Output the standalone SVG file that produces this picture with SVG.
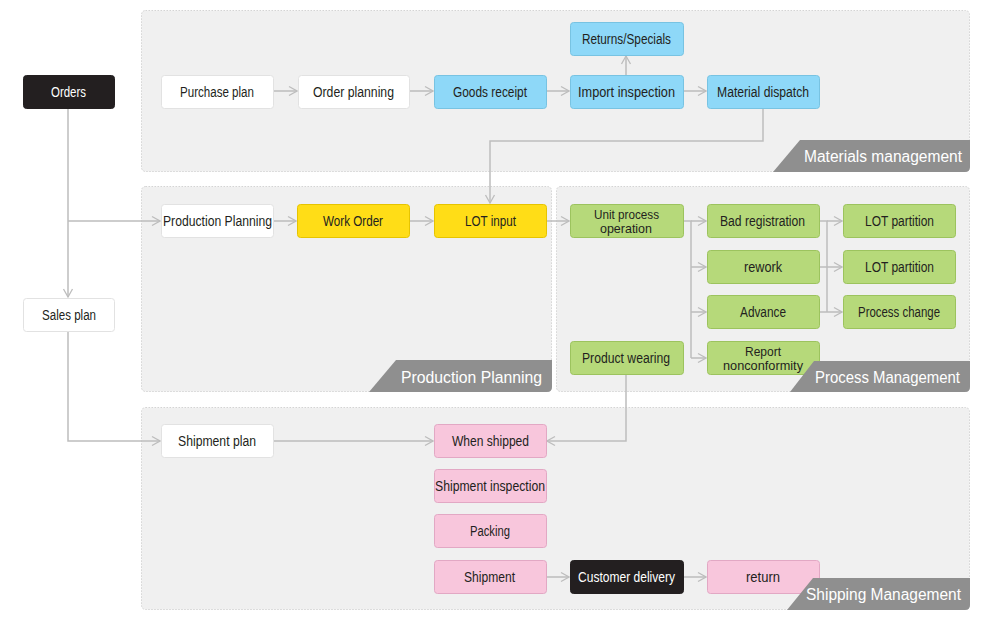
<svg xmlns="http://www.w3.org/2000/svg" width="1000" height="628" viewBox="0 0 1000 628">
<defs>
<style>
.panel{fill:#f0f0f0;stroke:#d4d4d4;stroke-width:1;stroke-dasharray:1.5 1.5}
.tag{fill:#8f8f8f}
.tagt{fill:#ffffff;font-family:"Liberation Sans",Arial,sans-serif;font-size:16px;text-anchor:start}
.n rect{stroke-width:1}
.n text{font-family:"Liberation Sans",Arial,sans-serif;font-size:14px;fill:#231f20;text-anchor:start}
.n text.s{font-size:13px}
.w rect{fill:#ffffff;stroke:#e2e2e2}
.k rect{fill:#231f20;stroke:#231f20}
.k text{fill:#ffffff}
.b rect{fill:#8ed8f8;stroke:#78c3e2}
.y rect{fill:#ffdd17;stroke:#e6c400}
.g rect{fill:#b6d97a;stroke:#9cc35e}
.p rect{fill:#f8c6dc;stroke:#e2a8c4}
.c{fill:none;stroke:#bdbdbd;stroke-width:1.5}
</style>
<marker id="ah" viewBox="0 0 10 12" refX="9" refY="6" markerWidth="10" markerHeight="12" markerUnits="userSpaceOnUse" orient="auto">
<path d="M1,1.5 L9,6 L1,10.5" fill="none" stroke="#bdbdbd" stroke-width="1.3"/>
</marker>
</defs>

<g id="panels">
<rect class="panel" x="141.5" y="10.5" width="828" height="161" rx="4"/>
<rect class="panel" x="141.5" y="186.5" width="410" height="205" rx="4"/>
<rect class="panel" x="556.5" y="186.5" width="413" height="205" rx="4"/>
<rect class="panel" x="141.5" y="407.5" width="828" height="202" rx="4"/>
</g>

<g id="connectors">
<path class="c" d="M68,108 V297" marker-end="url(#ah)"/>
<path class="c" d="M68,221 H160" marker-end="url(#ah)"/>
<path class="c" d="M68,331 V441 H160" marker-end="url(#ah)"/>
<path class="c" d="M273,91 H297" marker-end="url(#ah)"/>
<path class="c" d="M409,91 H433" marker-end="url(#ah)"/>
<path class="c" d="M546,91 H569" marker-end="url(#ah)"/>
<path class="c" d="M683,91 H706" marker-end="url(#ah)"/>
<path class="c" d="M626,75 V56" marker-end="url(#ah)"/>
<path class="c" d="M763,108 V141 H490 V203" marker-end="url(#ah)"/>
<path class="c" d="M273,221 H296" marker-end="url(#ah)"/>
<path class="c" d="M409,221 H433" marker-end="url(#ah)"/>
<path class="c" d="M546,221 H569" marker-end="url(#ah)"/>
<path class="c" d="M683,221 H691 V358"/>
<path class="c" d="M691,221 H706" marker-end="url(#ah)"/>
<path class="c" d="M691,267 H706" marker-end="url(#ah)"/>
<path class="c" d="M691,312 H706" marker-end="url(#ah)"/>
<path class="c" d="M691,358 H706" marker-end="url(#ah)"/>
<path class="c" d="M819,221 H827 V312"/>
<path class="c" d="M819,267 H827"/>
<path class="c" d="M819,312 H827"/>
<path class="c" d="M827,221 H842" marker-end="url(#ah)"/>
<path class="c" d="M827,267 H842" marker-end="url(#ah)"/>
<path class="c" d="M827,312 H842" marker-end="url(#ah)"/>
<path class="c" d="M626,375 V441 H547" marker-end="url(#ah)"/>
<path class="c" d="M273,441 H433" marker-end="url(#ah)"/>
<path class="c" d="M546,577 H569" marker-end="url(#ah)"/>
<path class="c" d="M683,577 H706" marker-end="url(#ah)"/>
</g>

<g id="orders" class="n k"><rect x="23.5" y="75.5" width="91" height="33" rx="3"/><text x="51" y="96.5" textLength="35" lengthAdjust="spacingAndGlyphs">Orders</text></g>
<g id="sales-plan" class="n w"><rect x="23.5" y="298.5" width="91" height="33" rx="3"/><text x="42" y="319.5" textLength="54" lengthAdjust="spacingAndGlyphs">Sales plan</text></g>

<g id="purchase-plan" class="n w"><rect x="161.5" y="75.5" width="112" height="33" rx="3"/><text x="180" y="96.5" textLength="74" lengthAdjust="spacingAndGlyphs">Purchase plan</text></g>
<g id="order-planning" class="n w"><rect x="298.5" y="75.5" width="111" height="33" rx="3"/><text x="313" y="96.5" textLength="81" lengthAdjust="spacingAndGlyphs">Order planning</text></g>
<g id="goods-receipt" class="n b"><rect x="434.5" y="75.5" width="112" height="33" rx="3"/><text x="453" y="96.5" textLength="74" lengthAdjust="spacingAndGlyphs">Goods receipt</text></g>
<g id="import-inspection" class="n b"><rect x="570.5" y="75.5" width="113" height="33" rx="3"/><text x="578" y="96.5" textLength="97" lengthAdjust="spacingAndGlyphs">Import inspection</text></g>
<g id="material-dispatch" class="n b"><rect x="707.5" y="75.5" width="112" height="33" rx="3"/><text x="717" y="96.5" textLength="92" lengthAdjust="spacingAndGlyphs">Material dispatch</text></g>
<g id="returns-specials" class="n b"><rect x="570.5" y="22.5" width="113" height="33" rx="3"/><text x="582" y="43.5" textLength="89" lengthAdjust="spacingAndGlyphs">Returns/Specials</text></g>

<g id="production-planning" class="n w"><rect x="161.5" y="204.5" width="112" height="33" rx="3"/><text x="163" y="225.5" textLength="109" lengthAdjust="spacingAndGlyphs">Production Planning</text></g>
<g id="work-order" class="n y"><rect x="297.5" y="204.5" width="112" height="33" rx="3"/><text x="323" y="225.5" textLength="60" lengthAdjust="spacingAndGlyphs">Work Order</text></g>
<g id="lot-input" class="n y"><rect x="434.5" y="204.5" width="112" height="33" rx="3"/><text x="465" y="225.5" textLength="51" lengthAdjust="spacingAndGlyphs">LOT input</text></g>

<g id="unit-process" class="n g"><rect x="570.5" y="204.5" width="113" height="33" rx="3"/><text class="s" x="594" y="218.5" textLength="65" lengthAdjust="spacingAndGlyphs">Unit process</text><text class="s" x="600" y="232.5" textLength="52" lengthAdjust="spacingAndGlyphs">operation</text></g>
<g id="bad-registration" class="n g"><rect x="707.5" y="204.5" width="112" height="33" rx="3"/><text x="720" y="225.5" textLength="85" lengthAdjust="spacingAndGlyphs">Bad registration</text></g>
<g id="lot-partition-1" class="n g"><rect x="843.5" y="204.5" width="112" height="33" rx="3"/><text x="865" y="225.5" textLength="69" lengthAdjust="spacingAndGlyphs">LOT partition</text></g>
<g id="rework" class="n g"><rect x="707.5" y="250.5" width="112" height="33" rx="3"/><text x="744" y="271.5" textLength="38" lengthAdjust="spacingAndGlyphs">rework</text></g>
<g id="lot-partition-2" class="n g"><rect x="843.5" y="250.5" width="112" height="33" rx="3"/><text x="865" y="271.5" textLength="69" lengthAdjust="spacingAndGlyphs">LOT partition</text></g>
<g id="advance" class="n g"><rect x="707.5" y="295.5" width="112" height="33" rx="3"/><text x="740" y="316.5" textLength="46" lengthAdjust="spacingAndGlyphs">Advance</text></g>
<g id="process-change" class="n g"><rect x="843.5" y="295.5" width="112" height="33" rx="3"/><text x="858" y="316.5" textLength="82" lengthAdjust="spacingAndGlyphs">Process change</text></g>
<g id="product-wearing" class="n g"><rect x="570.5" y="341.5" width="113" height="33" rx="3"/><text x="582" y="362.5" textLength="88" lengthAdjust="spacingAndGlyphs">Product wearing</text></g>
<g id="report-nonconformity" class="n g"><rect x="707.5" y="341.5" width="112" height="33" rx="3"/><text class="s" x="745" y="355.5" textLength="36" lengthAdjust="spacingAndGlyphs">Report</text><text class="s" x="723" y="369.5" textLength="80" lengthAdjust="spacingAndGlyphs">nonconformity</text></g>

<g id="shipment-plan" class="n w"><rect x="161.5" y="424.5" width="112" height="33" rx="3"/><text x="178" y="445.5" textLength="78" lengthAdjust="spacingAndGlyphs">Shipment plan</text></g>
<g id="when-shipped" class="n p"><rect x="434.5" y="424.5" width="112" height="33" rx="3"/><text x="452" y="445.5" textLength="77" lengthAdjust="spacingAndGlyphs">When shipped</text></g>
<g id="shipment-inspection" class="n p"><rect x="434.5" y="469.5" width="112" height="33" rx="3"/><text x="435" y="490.5" textLength="110" lengthAdjust="spacingAndGlyphs">Shipment inspection</text></g>
<g id="packing" class="n p"><rect x="434.5" y="514.5" width="112" height="33" rx="3"/><text x="470" y="535.5" textLength="40" lengthAdjust="spacingAndGlyphs">Packing</text></g>
<g id="shipment" class="n p"><rect x="434.5" y="560.5" width="112" height="33" rx="3"/><text x="464" y="581.5" textLength="51" lengthAdjust="spacingAndGlyphs">Shipment</text></g>
<g id="customer-delivery" class="n k"><rect x="570.5" y="560.5" width="113" height="33" rx="3"/><text x="578" y="581.5" textLength="97" lengthAdjust="spacingAndGlyphs">Customer delivery</text></g>
<g id="return" class="n p"><rect x="707.5" y="560.5" width="112" height="33" rx="3"/><text x="746" y="581.5" textLength="34" lengthAdjust="spacingAndGlyphs">return</text></g>

<g id="tags">
<path class="tag" d="M800,140 L970,140 L970,167 Q970,172 965,172 L773,172 Z"/>
<text class="tagt" x="804" y="162" textLength="158" lengthAdjust="spacingAndGlyphs">Materials management</text>
<path class="tag" d="M396,360 L552,360 L552,387 Q552,392 547,392 L369,392 Z"/>
<text class="tagt" x="401" y="383" textLength="141" lengthAdjust="spacingAndGlyphs">Production Planning</text>
<path class="tag" d="M814,361 L970,361 L970,387 Q970,392 965,392 L790,392 Z"/>
<text class="tagt" x="815" y="383" textLength="145" lengthAdjust="spacingAndGlyphs">Process Management</text>
<path class="tag" d="M813,578 L970,578 L970,605 Q970,610 965,610 L787,610 Z"/>
<text class="tagt" x="806" y="600" textLength="155" lengthAdjust="spacingAndGlyphs">Shipping Management</text>
</g>
</svg>
